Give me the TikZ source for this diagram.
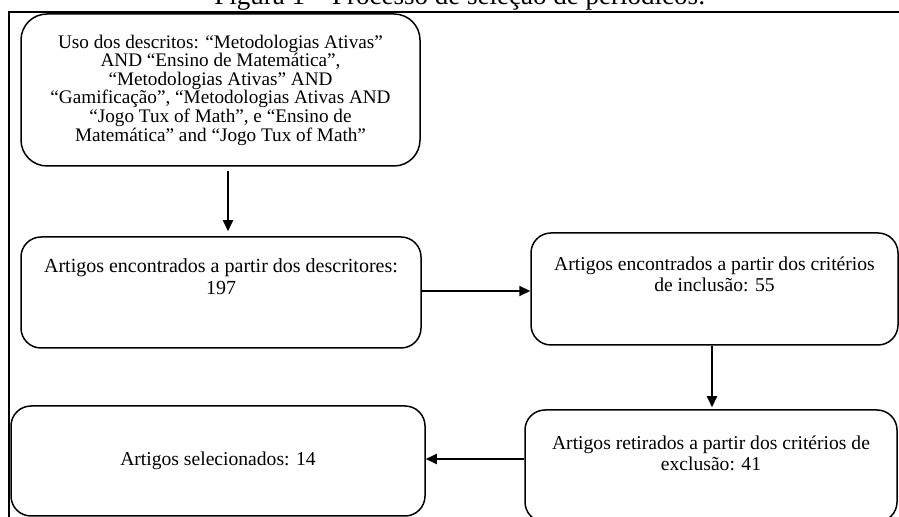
\documentclass[tikz,border=0pt]{standalone}
\usepackage{fontspec}
\setmainfont{Liberation Serif}
\usetikzlibrary{arrows.meta}

\begin{document}
\begin{tikzpicture}[x=0.5pt,y=-0.5pt,
    etapa/.style={draw,line width=0.75pt,rounded corners=10pt,align=center,inner sep=0pt,
      font=\fontsize{9.8}{10.5}\selectfont},
    seta/.style={line width=1pt,-{Triangle[length=5.5pt,width=5pt]}}]
    \useasboundingbox (0,0) rectangle (899,517);
    \clip (0,0) rectangle (899,517);
    % moldura e titulo
    \draw[line width=1pt] (9,540) -- (9,12) -- (920,12);
    \node[anchor=base,inner sep=0pt,font=\fontsize{13.5}{15}\selectfont] (titulo) at (460,5)
        {Figura 1 – Processo de seleção de periódicos:};
    % etapas
    \node[etapa,rounded corners=13pt,minimum width=199.5pt,minimum height=76pt,
        font=\fontsize{9.6}{9.3}\selectfont] (busca) at (220.5,90)
        {Uso dos descritos: “Metodologias Ativas”\\ AND “Ensino de Matemática”,\\
         “Metodologias Ativas” AND\\ “Gamificação”, “Metodologias Ativas AND\\
         “Jogo Tux of Math”, e “Ensino de\\ Matemática” and “Jogo Tux of Math”};
    \node[etapa,minimum width=200pt,minimum height=55.5pt,
        font=\fontsize{10}{11}\selectfont] (encontrados) at (221,292.5)
        {Artigos encontrados a partir dos descritores:\\ 197\\[5pt]};
    \node[etapa,minimum width=183.5pt,minimum height=56pt] (inclusao) at (714.5,289)
        {Artigos encontrados a partir dos critérios\\ de inclusão: 55\\[4pt]};
    \node[etapa,minimum width=186pt,minimum height=56pt] (exclusao) at (711,466)
        {Artigos retirados a partir dos critérios de\\ exclusão: 41\\[2pt]};
    \node[etapa,minimum width=207pt,minimum height=55pt] (selecionados) at (218,461)
        {Artigos selecionados: 14};
    % setas
    \draw[seta] ([xshift=3.75pt,yshift=-2pt]busca.south) -- ([xshift=3.75pt,yshift=2.5pt]busca.south |- encontrados.north);
    \draw[seta] (encontrados.east |- 0,291) -- (inclusao.west |- 0,291);
    \draw[seta] ([xshift=-1.25pt]inclusao.south) -- ([xshift=-1.25pt,yshift=1pt]inclusao.south |- exclusao.north);
    \draw[seta] (exclusao.west |- 0,459) -- (selecionados.east |- 0,459);
\end{tikzpicture}
\end{document}
